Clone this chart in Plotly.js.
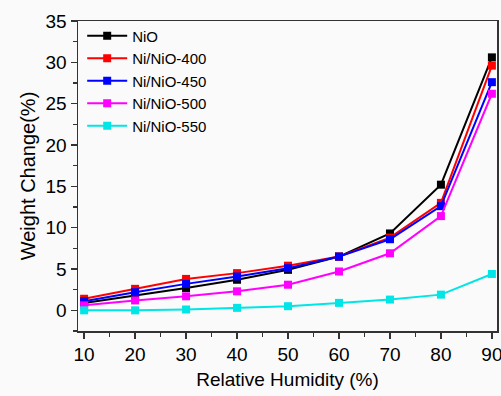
<!DOCTYPE html>
<html>
<head>
<script src="https://cdn.plot.ly/plotly-3.0.1.min.js"></script>
<style>body{margin:0;padding:0;background:#fff}#chart{width:501px;height:396px}</style>
</head>
<body>
<div id="chart"></div>
<script>
const humidity = [10, 20, 30, 40, 50, 60, 70, 80, 90];
const seriesNames = ["NiO", "Ni/NiO-400", "Ni/NiO-450", "Ni/NiO-500", "Ni/NiO-550"];
const nio     = [0.9, 1.8, 2.7, 3.7, 4.9, 6.5, 9.3, 15.2, 30.6];
const nio400  = [1.4, 2.6, 3.8, 4.5, 5.4, 6.5, 8.8, 13.0, 29.6];
const nio450  = [1.1, 2.2, 3.2, 4.1, 5.1, 6.5, 8.6, 12.6, 27.6];
const nio500  = [0.6, 1.2, 1.7, 2.3, 3.1, 4.7, 6.9, 11.4, 26.2];
const nio550  = [0.0, 0.0, 0.1, 0.3, 0.5, 0.9, 1.3, 1.9, 4.4];
const colors = ["#000000", "#ff0000", "#0000ff", "#ff00ff", "#00e5e5"];
const values = [nio, nio400, nio450, nio500, nio550];

const traces = values.map((v, i) => ({
  x: humidity, y: v, name: seriesNames[i], type: 'scatter', mode: 'lines+markers',
  line: {color: colors[i], width: 2},
  marker: {symbol: 'square', size: 8, color: colors[i]}
}));

const font = {family: 'Liberation Sans, Arial, sans-serif', color: '#000'};
const layout = {
  width: 501, height: 396,
  margin: {l: 78, r: 4, t: 21, b: 65},
  paper_bgcolor: '#fafafa', plot_bgcolor: '#fafafa',
  font: font,
  showlegend: true,
  legend: {x: 0.01, y: 1.005, xanchor: 'left', yanchor: 'top', bgcolor: 'rgba(0,0,0,0)',
           font: {size: 15, family: font.family}, tracegroupgap: 0, itemwidth: 40},
  xaxis: {
    range: [8.8, 91], tickvals: humidity, ticktext: humidity.map(String),
    ticks: 'outside', ticklen: 6, tickwidth: 1.5, tickcolor: '#333',
    minor: {dtick: 5, tick0: 5, ticks: 'outside', ticklen: 4, tickcolor: '#333', tickwidth: 1.2},
    showline: true, linecolor: '#333', linewidth: 1.5, mirror: true,
    showgrid: false, zeroline: false, ticklabeloverflow: 'allow',
    tickfont: {size: 19},
    title: {text: 'Relative Humidity (%)', font: {size: 19}, standoff: 8}
  },
  yaxis: {
    range: [-2.5, 35], tick0: 0, dtick: 5,
    ticks: 'outside', ticklen: 6, tickwidth: 1.5, tickcolor: '#333',
    minor: {dtick: 2.5, tick0: 0, ticks: 'outside', ticklen: 4, tickcolor: '#333', tickwidth: 1.2},
    showline: true, linecolor: '#333', linewidth: 1.5, mirror: true,
    showgrid: false, zeroline: false,
    tickfont: {size: 19},
    title: {text: 'Weight Change(%)', font: {size: 20}, standoff: 4}
  }
};
Plotly.newPlot('chart', traces, layout, {displayModeBar: false, staticPlot: true});
</script>
</body>
</html>
